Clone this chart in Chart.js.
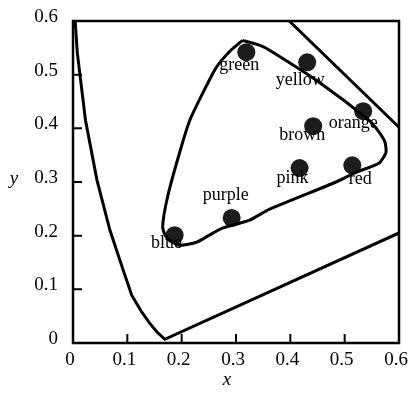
<!DOCTYPE html>
<html>
<head>
<meta charset="utf-8">
<script src="https://cdn.jsdelivr.net/npm/chart.js@4.4.1/dist/chart.umd.min.js"></script>
<style>
  html, body { margin: 0; padding: 0; background: #fff; }
  #wrap { width: 408px; height: 393px; }
</style>
</head>
<body>
<div id="wrap"><canvas id="cie"></canvas></div>
<script>
// axis ticks
const xTicks = [0, 0.1, 0.2, 0.3, 0.4, 0.5, 0.6];
const yTicks = [0, 0.1, 0.2, 0.3, 0.4, 0.5, 0.6];

// spectral locus (left branch + purple line)
const locusX = [0.004, 0.008, 0.023, 0.044, 0.068, 0.091, 0.108, 0.125, 0.141, 0.155, 0.169, 0.6];
const locusY = [0.6, 0.54, 0.415, 0.304, 0.21, 0.14, 0.089, 0.06, 0.037, 0.02, 0.007, 0.205];

// upper right edge of the locus
const edgeX = [0.398, 0.6];
const edgeY = [0.6, 0.402];

// inner gamut outline
const gamutX = [0.312, 0.343, 0.361, 0.453, 0.545, 0.562, 0.574, 0.576, 0.563, 0.521, 0.484, 0.361, 0.325, 0.275, 0.251, 0.228, 0.196, 0.172, 0.165, 0.174, 0.196, 0.215, 0.239, 0.264, 0.29, 0.312];
const gamutY = [0.564, 0.555, 0.546, 0.486, 0.415, 0.395, 0.375, 0.355, 0.335, 0.318, 0.3, 0.249, 0.229, 0.214, 0.201, 0.188, 0.182, 0.197, 0.216, 0.272, 0.354, 0.415, 0.466, 0.514, 0.545, 0.564];

// named colours
const colourNames = ['green', 'yellow', 'orange', 'brown', 'pink', 'red', 'purple', 'blue'];
const colourX = [0.319, 0.431, 0.534, 0.442, 0.417, 0.514, 0.292, 0.187];
const colourY = [0.542, 0.523, 0.432, 0.404, 0.326, 0.331, 0.233, 0.201];

const toPoints = (xs, ys) => xs.map((x, i) => ({ x: x, y: ys[i] }));

const serif = '"Liberation Serif", "DejaVu Serif", serif';

// label offsets (pixels) from each dot
const labelOffset = {
  green: [-7, 13], yellow: [-7, 18], orange: [-10, 12], brown: [-11, 9],
  pink: [-7, 10], red: [8, 14], purple: [-6, -23], blue: [-8, 8]
};

const framePlugin = {
  id: 'frame',
  afterDatasetsDraw(chart) {
    const ctx = chart.ctx;
    const a = chart.chartArea;
    const xs = chart.scales.x, ys = chart.scales.y;
    ctx.save();
    ctx.strokeStyle = '#000';
    ctx.lineWidth = 2.5;
    ctx.strokeRect(a.left, a.top, a.right - a.left, a.bottom - a.top);
    // inward tick marks
    ctx.lineWidth = 2;
    ctx.beginPath();
    xTicks.slice(1, -1).forEach(v => {
      const px = xs.getPixelForValue(v);
      ctx.moveTo(px, a.bottom);
      ctx.lineTo(px, a.bottom - 9);
    });
    yTicks.slice(1, -1).forEach(v => {
      const py = ys.getPixelForValue(v);
      ctx.moveTo(a.left, py);
      ctx.lineTo(a.left + 9, py);
    });
    ctx.stroke();

    // point labels
    ctx.fillStyle = '#000';
    ctx.font = '18px ' + serif;
    ctx.textAlign = 'center';
    ctx.textBaseline = 'middle';
    colourNames.forEach((name, i) => {
      const px = xs.getPixelForValue(colourX[i]);
      const py = ys.getPixelForValue(colourY[i]);
      const off = labelOffset[name];
      ctx.fillText(name, px + off[0], py + off[1]);
    });

    // axis titles
    ctx.font = 'italic 19px ' + serif;
    ctx.fillText('x', (a.left + a.right) / 2 - 9, 380);
    ctx.fillText('y', 14, ys.getPixelForValue(0.3) - 3);
    ctx.restore();
  }
};

new Chart(document.getElementById('cie'), {
  type: 'scatter',
  data: {
    datasets: [
      {
        data: toPoints(locusX, locusY),
        showLine: true, borderColor: '#000', borderWidth: 3,
        pointRadius: 0, tension: 0
      },
      {
        data: toPoints(edgeX, edgeY),
        showLine: true, borderColor: '#000', borderWidth: 3,
        pointRadius: 0
      },
      {
        data: toPoints(gamutX, gamutY),
        showLine: true, borderColor: '#000', borderWidth: 3,
        pointRadius: 0, tension: 0.2
      },
      {
        data: toPoints(colourX, colourY),
        showLine: false, pointRadius: 9,
        backgroundColor: '#1c1c1c', borderColor: '#1c1c1c', borderWidth: 0
      }
    ]
  },
  options: {
    responsive: true,
    maintainAspectRatio: false,
    animation: false,
    events: [],
    layout: { padding: { left: 0, top: 21, right: 8, bottom: 0 } },
    plugins: { legend: { display: false }, tooltip: { enabled: false } },
    scales: {
      x: {
        type: 'linear', min: 0, max: 0.6,
        afterFit: s => { s.height = 50; s.paddingLeft = 0; s.paddingRight = 0; },
        afterBuildTicks: s => { s.ticks = xTicks.map(v => ({ value: v })); },
        grid: { display: false, drawTicks: false },
        border: { display: false },
        ticks: {
          color: '#000', padding: 6, maxRotation: 0, labelOffset: -3,
          font: { family: serif, size: 19 },
          callback: v => String(v)
        }
      },
      y: {
        type: 'linear', min: 0, max: 0.6,
        afterFit: s => { s.width = 73; s.paddingTop = 0; s.paddingBottom = 0; },
        afterBuildTicks: s => { s.ticks = yTicks.map(v => ({ value: v })); },
        grid: { display: false, drawTicks: false },
        border: { display: false },
        ticks: {
          color: '#000', padding: 15, labelOffset: -4,
          font: { family: serif, size: 19 },
          callback: v => String(v)
        }
      }
    }
  },
  plugins: [framePlugin]
});
</script>
</body>
</html>
